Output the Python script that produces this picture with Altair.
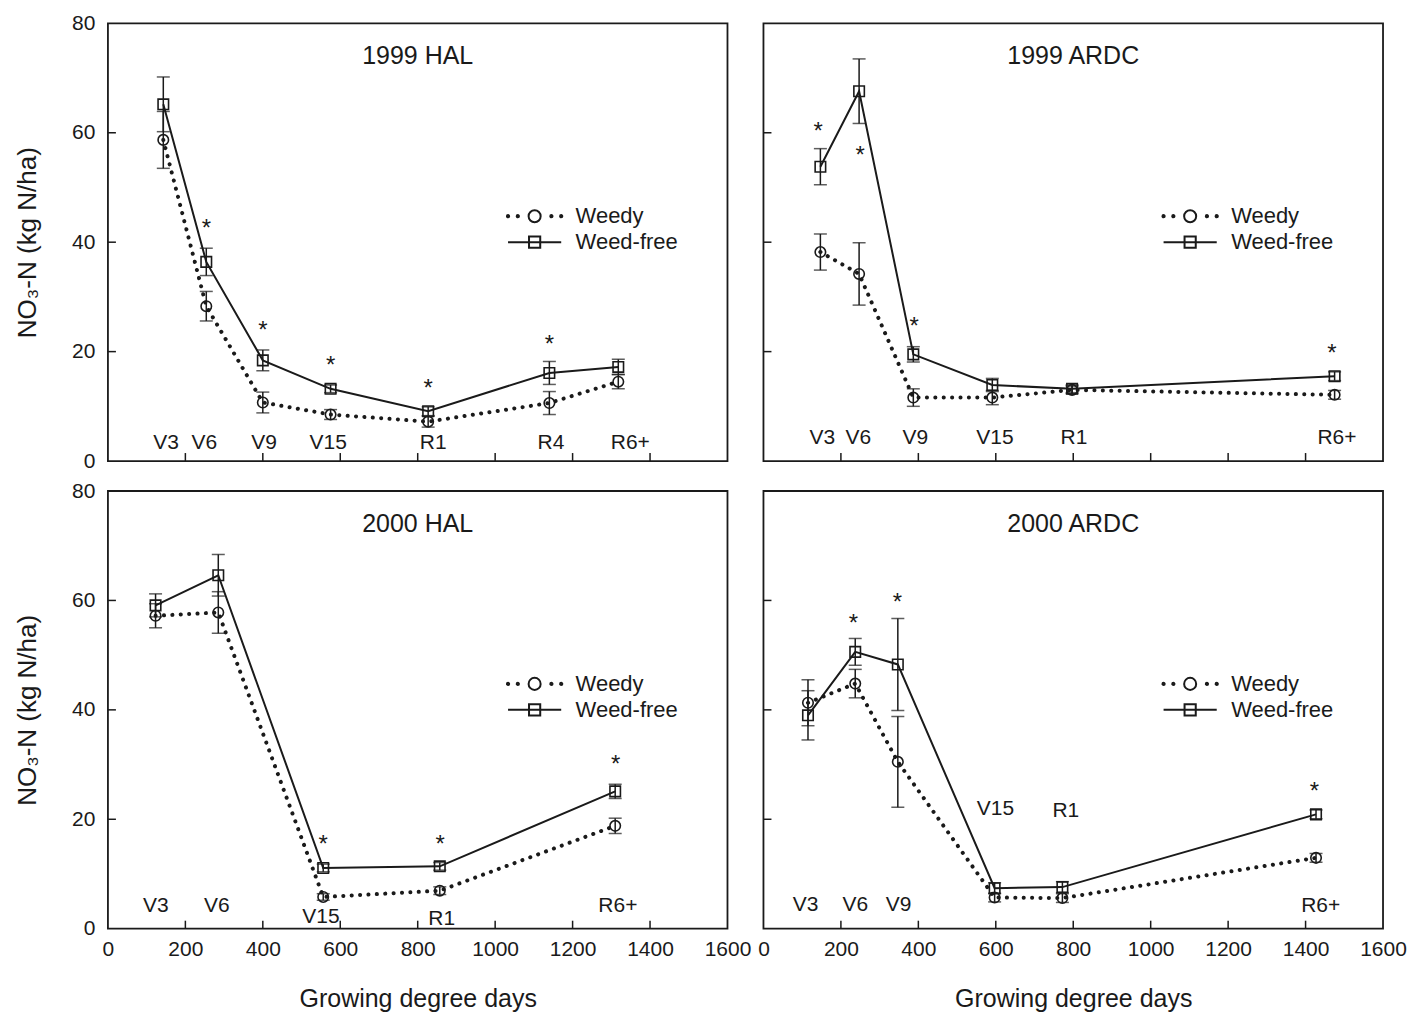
import altair as alt
import pandas as pd

FONT = "Liberation Sans"
INK = "#1a1a1a"
W, H = 620, 438

# ---------------- data ----------------
# 1999 HAL
hal99_gdd = [143, 254, 400, 575, 827, 1140, 1318]
hal99_weedy = [58.7, 28.3, 10.7, 8.5, 7.2, 10.6, 14.5]
hal99_weedy_err = [5.2, 2.7, 1.9, 0.9, 1.0, 2.1, 1.3]
hal99_free = [65.2, 36.4, 18.4, 13.2, 9.1, 16.1, 17.2]
hal99_free_err = [5.0, 2.5, 1.9, 0.7, 0.8, 2.1, 1.4]
hal99_star_gdd = [254, 400, 575, 827, 1140]
hal99_star_y = [43.6, 25.0, 18.7, 14.5, 22.4]
hal99_stage = ["V3", "V6", "V9", "V15", "R1", "R4", "R6+"]
hal99_stage_gdd = [150, 249, 403, 569, 840, 1144, 1349]
hal99_stage_y = [3.3, 3.3, 3.3, 3.3, 3.3, 3.3, 3.3]

# 1999 ARDC
ardc99_gdd = [147, 247, 387, 591, 797, 1475]
ardc99_weedy = [38.2, 34.2, 11.6, 11.6, 13.0, 12.1]
ardc99_weedy_err = [3.3, 5.7, 1.6, 1.3, 0.7, 0.8]
ardc99_free = [53.8, 67.6, 19.5, 13.9, 13.2, 15.5]
ardc99_free_err = [3.3, 5.9, 1.4, 1.2, 0.7, 0.8]
ardc99_star_gdd = [141, 250, 389, 1468]
ardc99_star_y = [61.5, 57.0, 25.8, 20.8]
ardc99_stage = ["V3", "V6", "V9", "V15", "R1", "R6+"]
ardc99_stage_gdd = [152, 245, 392, 598, 802, 1481]
ardc99_stage_y = [4.2, 4.2, 4.2, 4.2, 4.2, 4.2]

# 2000 HAL
hal00_gdd = [123, 285, 556, 857, 1310]
hal00_weedy = [57.2, 57.8, 5.8, 6.95, 18.8]
hal00_weedy_err = [2.2, 3.8, 0.6, 0.7, 1.4]
hal00_free = [59.1, 64.6, 11.1, 11.4, 25.1]
hal00_free_err = [2.1, 3.8, 0.7, 0.7, 1.3]
hal00_star_gdd = [556, 858, 1311]
hal00_star_y = [16.6, 16.6, 31.2]
hal00_stage = ["V3", "V6", "V15", "R1", "R6+"]
hal00_stage_gdd = [124, 281, 550, 862, 1317]
hal00_stage_y = [4.1, 4.1, 2.2, 1.7, 4.1]

# 2000 ARDC
ardc00_gdd = [115, 237, 347, 597, 772, 1427]
ardc00_weedy = [41.3, 44.8, 30.5, 5.7, 5.6, 12.95]
ardc00_weedy_err = [4.2, 2.6, 8.3, 0.8, 0.8, 0.8]
ardc00_free = [39.0, 50.6, 48.3, 7.4, 7.6, 20.9]
ardc00_free_err = [4.5, 2.45, 8.4, 1.0, 1.0, 0.8]
ardc00_star_gdd = [232, 346, 1423]
ardc00_star_y = [57.0, 60.8, 26.2]
ardc00_stage = ["V3", "V6", "V9", "V15", "R1", "R6+"]
ardc00_stage_gdd = [109, 237, 349, 599, 781, 1439]
ardc00_stage_y = [4.3, 4.3, 4.3, 21.8, 21.5, 4.1]

x_tick_values = [200, 400, 600, 800, 1000, 1200, 1400]
y_tick_values = [20, 40, 60]
x_label_values = [0, 200, 400, 600, 800, 1000, 1200, 1400, 1600]
y_label_values = [0, 20, 40, 60, 80]
series_names = ["Weedy", "Weed-free"]


# ---------------- legend symbols (custom SVG paths) ----------------
def _dot(cx, r=0.08):
    return (f"M{cx - r},0 A{r},{r} 0 1,0 {cx + r},0 "
            f"A{r},{r} 0 1,0 {cx - r},0 ")


weedy_symbol = (_dot(-1.9) + _dot(-1.2) +
                "M-0.43,0 A0.43,0.43 0 1,0 0.43,0 A0.43,0.43 0 1,0 -0.43,0 " +
                _dot(1.2) + _dot(1.9))
free_symbol = ("M-1.9,0 L1.9,0 M-0.4,-0.4 L0.4,-0.4 L0.4,0.4 L-0.4,0.4 Z")


def make_panel(title, gdd, weedy, weedy_err, free, free_err,
               star_gdd, star_y, stage, stage_gdd, stage_y,
               show_x, show_y):
    xscale = alt.Scale(domain=[0, 1600], nice=False, zero=False)
    yscale = alt.Scale(domain=[0, 80], nice=False, zero=False)
    if show_x:
        xaxis = alt.Axis(values=x_label_values, format="d", ticks=False,
                         domain=False, grid=False, labelFlush=False,
                         labelOverlap=False, labelFont=FONT,
                         labelFontSize=21, labelColor=INK, labelPadding=10,
                         titleFont=FONT, titleFontSize=25,
                         titleFontWeight="normal", titleColor=INK,
                         titlePadding=27)
    else:
        xaxis = None
    if show_y:
        yaxis = alt.Axis(values=y_label_values, format="d", ticks=False,
                         domain=False, grid=False, labelFlush=False,
                         labelOverlap=False, labelFont=FONT,
                         labelFontSize=21, labelColor=INK, labelPadding=13,
                         titleFont=FONT, titleFontSize=26,
                         titleFontWeight="normal", titleColor=INK,
                         titlePadding=31)
    else:
        yaxis = None

    def X(f):
        return alt.X(f"{f}:Q", scale=xscale, axis=xaxis,
                     title="Growing degree days")

    def Y(f):
        return alt.Y(f"{f}:Q", scale=yscale, axis=yaxis,
                     title="NO₃-N (kg N/ha)")

    rows = []
    for g, v, e in zip(gdd, weedy, weedy_err):
        rows.append({"gdd": g, "value": v, "lo": v - e, "hi": v + e,
                     "series": "Weedy"})
    for g, v, e in zip(gdd, free, free_err):
        rows.append({"gdd": g, "value": v, "lo": v - e, "hi": v + e,
                     "series": "Weed-free"})
    df = pd.DataFrame(rows)
    df_w = df[df.series == "Weedy"]
    df_f = df[df.series == "Weed-free"]

    xt = alt.Chart(pd.DataFrame({"t": x_tick_values})).mark_rule(
        color=INK, strokeWidth=1.5).encode(
        x=X("t"), y=alt.value(H), y2=alt.value(H - 8))
    yt = alt.Chart(pd.DataFrame({"t": y_tick_values})).mark_rule(
        color=INK, strokeWidth=1.5).encode(
        y=Y("t"), x=alt.value(0), x2=alt.value(8))

    err = alt.Chart(df).mark_errorbar(
        ticks=True, size=13, thickness=1.5, color=INK).encode(
        x=X("gdd"), y=Y("lo"), y2=alt.Y2("hi"))

    line_w = alt.Chart(df_w).mark_line(
        color=INK, strokeWidth=4, strokeDash=[0.1, 8.3],
        strokeCap="round").encode(x=X("gdd"), y=Y("value"))
    line_f = alt.Chart(df_f).mark_line(
        color=INK, strokeWidth=2).encode(x=X("gdd"), y=Y("value"))

    pt_w = alt.Chart(df_w).mark_point(
        shape="circle", size=110, filled=False, strokeWidth=1.6,
        color=INK, opacity=1).encode(x=X("gdd"), y=Y("value"))
    pt_f = alt.Chart(df_f).mark_point(
        shape="square", size=110, filled=False, strokeWidth=1.6,
        color=INK, opacity=1).encode(x=X("gdd"), y=Y("value"))

    stars = alt.Chart(pd.DataFrame({"gdd": star_gdd, "value": star_y})).mark_text(
        text="*", font=FONT, fontSize=24, color=INK, dy=7,
        baseline="middle").encode(x=X("gdd"), y=Y("value"))

    stages = alt.Chart(pd.DataFrame(
        {"gdd": stage_gdd, "value": stage_y, "label": stage})).mark_text(
        font=FONT, fontSize=21, color=INK, baseline="middle",
        align="center").encode(x=X("gdd"), y=Y("value"),
                               text="label:N")

    # panel heading, drawn inside the frame
    heading = alt.Chart(pd.DataFrame({"name": [title]})).mark_text(
        font=FONT, fontSize=25, color=INK, baseline="alphabetic",
        align="center").encode(text="name:N", x=alt.value(W / 2),
                               y=alt.value(41))

    legend_layer = alt.Chart(df).transform_filter("false").mark_point(
        filled=False, color=INK, opacity=1, strokeWidth=2,
        size=784).encode(
        x=X("gdd"), y=Y("value"),
        shape=alt.Shape("series:N",
                        scale=alt.Scale(domain=series_names,
                                        range=[weedy_symbol, free_symbol]),
                        legend=alt.Legend(
                            orient="none", legendX=412, legendY=178,
                            title=None, padding=0, rowPadding=0,
                            symbolSize=784, symbolStrokeWidth=2,
                            symbolStrokeColor=INK,
                            symbolFillColor="transparent",
                            symbolOpacity=1,
                            labelFont=FONT, labelFontSize=22,
                            labelColor=INK, labelOffset=26,
                            labelLimit=300)))

    return alt.layer(xt, yt, err, line_w, line_f, pt_w, pt_f, stars,
                     stages, heading, legend_layer).properties(
        width=W, height=H)


p1 = make_panel("1999 HAL", hal99_gdd, hal99_weedy, hal99_weedy_err,
                hal99_free, hal99_free_err, hal99_star_gdd, hal99_star_y,
                hal99_stage, hal99_stage_gdd, hal99_stage_y, False, True)
p2 = make_panel("1999 ARDC", ardc99_gdd, ardc99_weedy, ardc99_weedy_err,
                ardc99_free, ardc99_free_err, ardc99_star_gdd, ardc99_star_y,
                ardc99_stage, ardc99_stage_gdd, ardc99_stage_y, False, False)
p3 = make_panel("2000 HAL", hal00_gdd, hal00_weedy, hal00_weedy_err,
                hal00_free, hal00_free_err, hal00_star_gdd, hal00_star_y,
                hal00_stage, hal00_stage_gdd, hal00_stage_y, True, True)
p4 = make_panel("2000 ARDC", ardc00_gdd, ardc00_weedy, ardc00_weedy_err,
                ardc00_free, ardc00_free_err, ardc00_star_gdd, ardc00_star_y,
                ardc00_stage, ardc00_stage_gdd, ardc00_stage_y, True, False)

chart = alt.concat(p1, p2, p3, p4, columns=2,
                   spacing={"row": 30, "column": 36},
                   bounds="flush", align="all").resolve_scale(
    shape="independent").resolve_legend(shape="independent").properties(
    padding={"left": 5, "top": 3, "right": 0, "bottom": 0},
    background="white").configure_view(stroke=INK, strokeWidth=1.8)

chart.save("out.html", embed_options={"renderer": "svg", "actions": False})
